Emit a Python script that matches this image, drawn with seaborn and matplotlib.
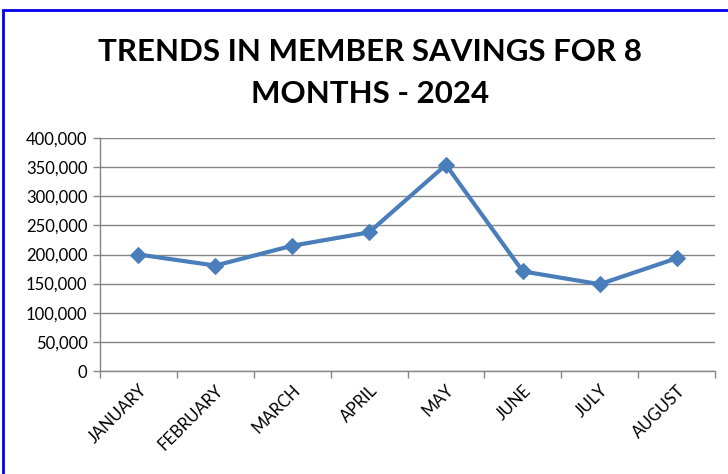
import numpy as np
import pandas as pd
import matplotlib
matplotlib.use("Agg")
import matplotlib.pyplot as plt
import seaborn as sns
from matplotlib.ticker import FuncFormatter, FixedLocator
from matplotlib.patches import Rectangle

# ----- DATA -----
months = ["JANUARY", "FEBRUARY", "MARCH", "APRIL", "MAY", "JUNE", "JULY", "AUGUST"]
savings = [200000, 181000, 215000, 238000, 354000, 171000, 149000, 193500]
title = "TRENDS IN MEMBER SAVINGS FOR 8\nMONTHS - 2024"

sns.set_theme(style="white")
plt.rcParams["font.family"] = ["Lato", "DejaVu Sans"]

df = pd.DataFrame({"month": months, "savings": savings})
df["pos"] = np.arange(len(months))

fig = plt.figure(figsize=(7.28, 4.74), dpi=100)
ax = fig.add_axes([100 / 728, 1 - 371 / 474, 615 / 728, 233 / 474])

line_col = "#4A7EBB"
sns.lineplot(data=df, x="pos", y="savings", ax=ax, color=line_col, linewidth=3,
             marker="D", markersize=8, markeredgecolor=line_col, sort=False)

grid_col = "#868686"
ax.set_ylim(0, 400000)
ax.set_yticks(np.arange(0, 400001, 50000))
ax.yaxis.set_major_formatter(FuncFormatter(lambda v, p: f"{int(v):,}"))
ax.grid(axis="y", color=grid_col, linewidth=1)
ax.set_axisbelow(True)

ax.set_xlim(-0.5, len(months) - 0.5)
ax.set_xticks(df["pos"])
ax.set_xticklabels(months, rotation=45, ha="right", rotation_mode="anchor")
ax.xaxis.set_minor_locator(FixedLocator(np.arange(-0.5, len(months), 1.0)))
ax.tick_params(axis="x", which="major", length=0, pad=8, labelsize=12, colors="black")
ax.tick_params(axis="x", which="minor", length=5, width=1, color=grid_col, direction="out", bottom=True)
ax.tick_params(axis="y", length=5, width=1, color=grid_col, direction="out", left=True,
               labelsize=12, colors="black", pad=4)

for s in ["top", "right"]:
    ax.spines[s].set_visible(False)
for s in ["left", "bottom"]:
    ax.spines[s].set_color(grid_col)
    ax.spines[s].set_linewidth(1)
ax.set_xlabel("")
ax.set_ylabel("")

fig.text(370 / 728, 1 - 73 / 474, title, ha="center", va="center", fontsize=22.5,
         fontweight="bold", linespacing=1.65, color="black")

# blue chart-area border
fig.patches.append(Rectangle((3 / 728, -0.1), 1.2, 1 - 10 / 474 + 0.1, transform=fig.transFigure,
                             fill=False, edgecolor="#0000EE", linewidth=2))

fig.savefig("out.png", dpi=100)
